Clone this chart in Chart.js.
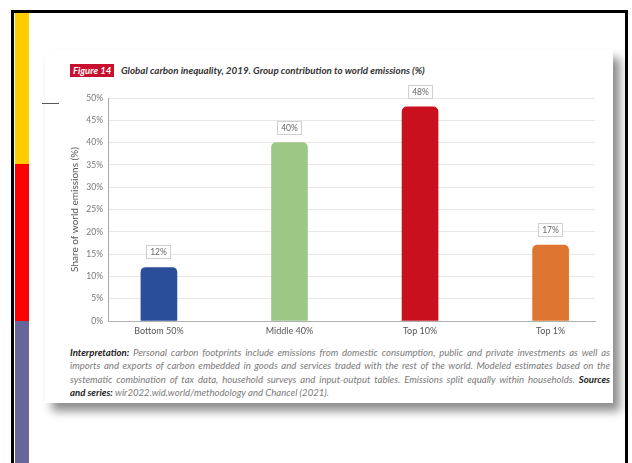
<!DOCTYPE html>
<html>
<head>
<meta charset="utf-8">
<script src="https://cdn.jsdelivr.net/npm/chart.js@4"></script>
<style>
  body { margin: 0; width: 632px; height: 463px; background: #fff; overflow: hidden; position: relative; font-family: Lato, "Open Sans", sans-serif; }
  .frame { position: absolute; left: 11px; top: 10px; width: 611px; height: 470px; border: 3px solid #000; border-bottom: none; }
  .band { position: absolute; left: 15px; width: 14px; }
  .card { position: absolute; left: 45px; top: 50px; width: 568px; height: 353px; background: #fff; box-shadow: 7px 8px 9px rgba(0,0,0,0.45); }
  .tick { position: absolute; left: 42px; top: 103px; width: 17px; height: 1px; background: #555; }
  .badge { position: absolute; left: 70px; top: 64px; padding: 1px 3px 1px 3px; background: #c8102e; color: #fff; font: italic 700 9.5px Lato, sans-serif; line-height: 11px; }
  .title { position: absolute; left: 121px; top: 64px; color: #333; font: italic 700 9.8px Lato, sans-serif; line-height: 12px; white-space: nowrap; }
  #chartBox { position: absolute; left: 45px; top: 80px; width: 560px; height: 265px; }
  .note { position: absolute; left: 70px; top: 346px; width: 540px; color: #7a7a7a; font: italic 400 9.6px Lato, sans-serif; line-height: 13.3px; }
  .note div { text-align: justify; text-align-last: justify; white-space: nowrap; }
  .note div.last { text-align-last: left; }
  .note b { color: #222; font-weight: 700; }
</style>
</head>
<body>
<div class="frame"></div>
<div class="band" style="top:13px;height:151px;background:#ffcc00"></div>
<div class="band" style="top:164px;height:157px;background:#ff0000"></div>
<div class="band" style="top:321px;height:142px;background:#666699"></div>
<div class="card"></div>
<div class="tick"></div>
<div class="badge">Figure 14</div>
<div class="title">Global carbon inequality, 2019. Group contribution to world emissions (%)</div>
<div id="chartBox"><canvas id="carbonChart"></canvas></div>
<div class="note">
  <div><b>Interpretation:</b> Personal carbon footprints include emissions from domestic consumption, public and private investments as well as</div>
  <div>imports and exports of carbon embedded in goods and services traded with the rest of the world. Modeled estimates based on the</div>
  <div>systematic combination of tax data, household surveys and input-output tables. Emissions split equally within households. <b>Sources</b></div>
  <div class="last"><b>and series:</b> wir2022.wid.world/methodology and Chancel (2021).</div>
</div>
<script>
const groups = ['Bottom 50%', 'Middle 40%', 'Top 10%', 'Top 1%'];
const shares = [12, 40, 48, 17];
const barColors = ['#2b4e9b', '#9dc785', '#c8101e', '#dd7530'];
const yTicks = [0, 5, 10, 15, 20, 25, 30, 35, 40, 45, 50];

// boxed value labels above each bar
const valueBoxes = {
    id: 'valueBoxes',
    afterDatasetsDraw(chart) {
        const ctx = chart.ctx;
        const meta = chart.getDatasetMeta(0);
        ctx.save();
        ctx.font = '8.5px Lato, sans-serif';
        ctx.textAlign = 'center';
        ctx.textBaseline = 'middle';
        meta.data.forEach((bar, i) => {
            const w = 25, h = 14;
            const bx = Math.round(bar.x - w / 2);
            const by = Math.round(bar.y - 8 - h);
            ctx.fillStyle = '#fff';
            ctx.fillRect(bx, by, w, h);
            ctx.strokeStyle = '#cfcfcf';
            ctx.lineWidth = 1;
            ctx.strokeRect(bx + 0.5, by + 0.5, w - 1, h - 1);
            ctx.fillStyle = '#666';
            ctx.fillText(shares[i] + '%', bx + w / 2, by + h / 2 + 0.5);
        });
        ctx.restore();
    }
};

new Chart(document.getElementById('carbonChart'), {
    type: 'bar',
    data: {
        datasets: [{
            data: groups.map((g, i) => ({ x: i, y: shares[i] })),
            backgroundColor: barColors,
            barThickness: 36,
            borderRadius: { topLeft: 5, topRight: 5 },
            borderSkipped: 'bottom'
        }]
    },
    options: {
        responsive: true,
        maintainAspectRatio: false,
        animation: false,
        layout: { padding: { left: 20, top: 18, right: 10, bottom: 0 } },
        plugins: { legend: { display: false }, tooltip: { enabled: false } },
        scales: {
            x: {
                type: 'linear',
                offset: false,
                min: -0.39,
                max: 3.34,
                afterBuildTicks: s => { s.ticks = groups.map((g, i) => ({ value: i })); },
                afterFit: s => { s.height = 24; },
                grid: { display: false, drawTicks: false, offset: false },
                border: { display: true, color: '#b0b0b0' },
                ticks: {
                    padding: 5,
                    color: '#555',
                    font: { family: 'Lato', size: 9 },
                    callback: v => groups[v]
                }
            },
            y: {
                min: 0,
                max: 50,
                afterBuildTicks: s => { s.ticks = yTicks.map(v => ({ value: v })); },
                afterFit: s => { s.width = 43; },
                grid: { color: '#e8e8e8', drawTicks: false },
                border: { display: true, color: '#a8a8a8' },
                ticks: {
                    padding: 5,
                    color: '#777',
                    font: { family: 'Lato', size: 8.5 },
                    callback: v => v + '%'
                },
                title: {
                    display: true,
                    text: 'Share of world emissions (%)',
                    color: '#555',
                    font: { family: 'Lato', size: 10 },
                    padding: { top: 4, bottom: 0 }
                }
            }
        }
    },
    plugins: [valueBoxes]
});
</script>
</body>
</html>
